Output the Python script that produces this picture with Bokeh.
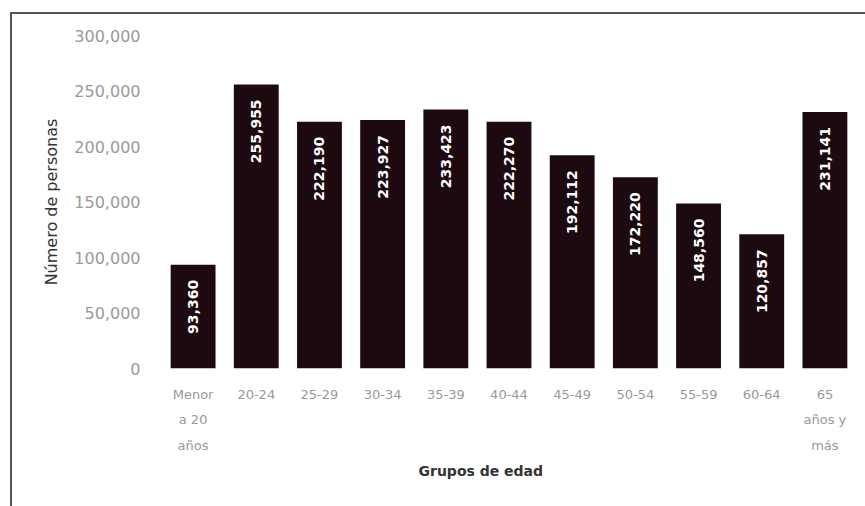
import math
from bokeh.plotting import figure
from bokeh.models import ColumnDataSource, Range1d, FactorRange, NumeralTickFormatter, Title, FixedTicker, InlineStyleSheet
from bokeh.core.properties import value
from bokeh.embed import file_html
from bokeh.resources import INLINE

categories = ["Menor\na 20\naños", "20-24", "25-29", "30-34", "35-39", "40-44",
              "45-49", "50-54", "55-59", "60-64", "65\naños y\nmás"]
personas = [93360, 255955, 222190, 223927, 233423, 222270, 192112, 172220, 148560, 120857, 231141]
value_labels = ["93,360", "255,955", "222,190", "223,927", "233,423", "222,270",
                "192,112", "172,220", "148,560", "120,857", "231,141"]
y_ticks = [0, 50000, 100000, 150000, 200000, 250000, 300000]

BAR = "#1c0a10"
FONT = "DejaVu Sans"

src = ColumnDataSource(dict(cat=categories, val=personas, lab=value_labels))

p = figure(x_range=FactorRange(*categories), y_range=Range1d(0, 300000),
           width=865, height=506, output_backend="svg", toolbar_location=None,
           min_border_left=161, min_border_right=9, min_border_top=35, min_border_bottom=138)
p.frame_width = 695
p.frame_height = 333
p.x_range.range_padding = 0
p.outline_line_color = None
p.background_fill_color = "white"
p.border_fill_color = "white"
p.grid.grid_line_color = None

p.vbar(x="cat", top="val", width=0.71, source=src, fill_color=BAR, line_color=None)
p.text(x="cat", y="val", text="lab", source=src, angle=math.pi / 2,
       text_align="right", text_baseline="middle", y_offset=15,
       text_color="white", text_font=value(FONT), text_font_style="bold",
       text_font_size="14px")

ya = p.yaxis[0]
ya.ticker = FixedTicker(ticks=y_ticks)
ya.formatter = NumeralTickFormatter(format="0,0")
ya.axis_line_color = None
ya.major_tick_line_color = None
ya.minor_tick_line_color = None
ya.major_label_standoff = 15
ya.major_label_text_font = FONT
ya.major_label_text_font_size = "16px"
ya.major_label_text_color = "#9a9a9a"
ya.axis_label = "Número de personas"
ya.axis_label_text_font = FONT
ya.axis_label_text_font_size = "16px"
ya.axis_label_text_font_style = "normal"
ya.axis_label_text_color = "#333333"
ya.axis_label_standoff = 10

xa = p.xaxis[0]
xa.axis_line_color = None
xa.major_tick_line_color = None
xa.minor_tick_line_color = None
xa.major_label_standoff = 12
xa.major_label_text_font = FONT
xa.major_label_text_font_size = "13px"
xa.major_label_text_color = "#999999"
xa.major_label_text_line_height = 1.7

p.add_layout(Title(text="Grupos de edad", align="left", offset=257, standoff=10,
                   text_font=FONT, text_font_size="14px", text_font_style="bold",
                   text_color="#333333"), "below")

p.stylesheets = [InlineStyleSheet(css=""":host::after { content: ""; position: absolute;
 left: 10px; top: 12px; right: -60px; bottom: -60px;
 border-top: 2px solid #555555; border-left: 2px solid #555555; pointer-events: none; }""")]

open("out.html", "w").write(file_html(p, INLINE))
